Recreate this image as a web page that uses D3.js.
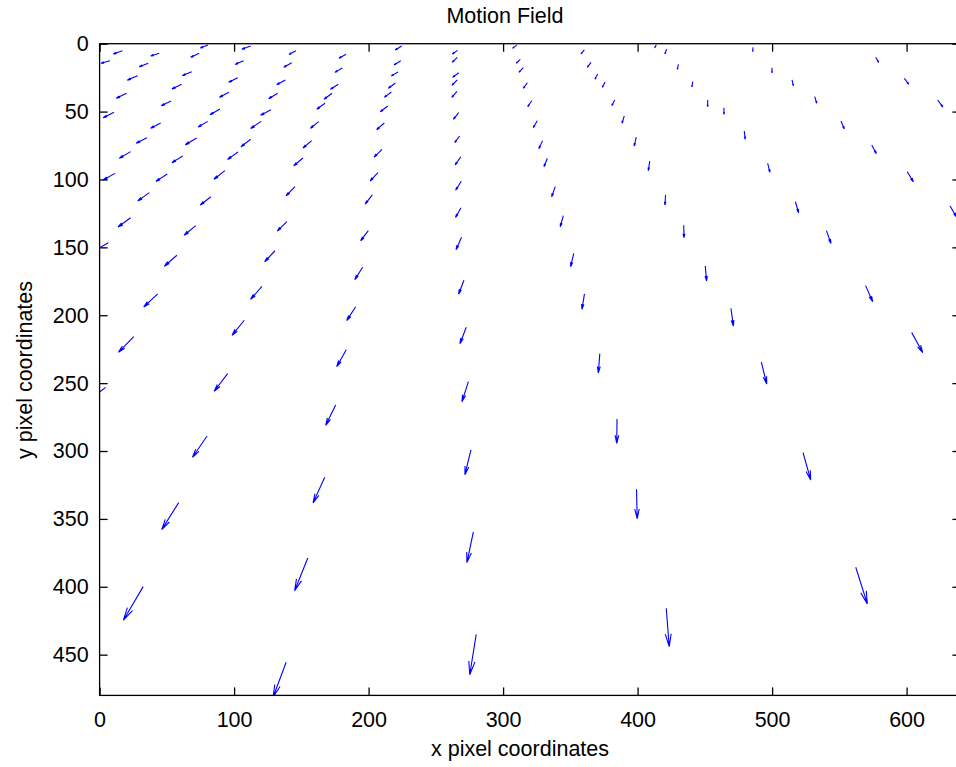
<!DOCTYPE html>
<html>
<head>
<meta charset="utf-8">
<script src="https://cdn.jsdelivr.net/npm/d3@7"></script>
<style>
  html, body { margin: 0; padding: 0; background: #fff; }
  svg { display: block; }
  text { font-family: "Liberation Sans", Arial, Helvetica, sans-serif; fill: #000; }
</style>
</head>
<body>
<svg id="chart" width="956" height="767"></svg>
<script>
// ---- data (tail position x,y and displacement u,v in pixel-coordinate units) ----
const qx = [
  16.9, 7.7, 44.4, 36.2, 80.6, 74.1, 112.3, 107.1, 146.0, 142.8,
  68.5, 28.3, 102.7, 138.1, 61.0, 20.1, 96.2, 132.4, 53.1, 10.7,
  89.5, 127.4, 45.4, 80.4, 120.2, 35.2, 72.2, 112.3, 23.1, 61.8,
  102.9, 11.4, 50.3, 93.2, 37.0, 82.8, 145.3, 202.8, 23.1, 71.5,
  139.3, 199.8, 6.5, 57.5, 130.4, 195.6, 43.2, 120.7, 190.4, 25.4,
  107.6, 183.4, 95.2, 4.5, 175.5, 79.9, 276.1, 167.4, 58.8, 277.9,
  399.2, 154.8, 32.4, 280.0, 138.7, 523.0, 562.2, 421.3, 338.8, 420.8,
  517.3, 632.3, 268.7, 344.8, 434.3, 540.4, 269.1, 352.5, 450.3, 569.5,
  270.9, 360.5, 469.4, 603.8, 272.6, 371.9, 492.0, 274.2, 384.7, 485.8,
  577.0, 499.9, 441.0, 514.8, 598.3, 452.1, 464.2, 531.7, 623.1, 479.3,
  551.2, 574.1, 496.7, 600.5, 310.1, 360.4, 413.9, 421.6, 430.3, 312.8,
  315.0, 365.4, 370.3, 375.8, 318.0, 321.3, 383.0, 325.4, 390.1, 329.4,
  399.0, 332.9, 409.0, 183.2, 180.4, 177.5, 172.8, 167.6, 162.9, 157.7,
  151.2, 224.6, 223.9, 221.9, 219.9, 216.9, 214.2, 211.7, 210.0, 207.0,
  266.2, 265.9, 267.0, 265.9, 265.7, 267.0, 267.7, 268.5, 268.9
];
const qy = [
  5.2, 12.5, 7.1, 14.4, 1.0, 7.1, 1.7, 12.5, 5.2, 14.0,
  20.6, 23.6, 25.0, 26.7, 29.9, 36.5, 35.8, 36.5, 42.2, 50.5,
  48.1, 48.6, 58.4, 57.2, 57.2, 69.2, 69.5, 70.4, 79.5, 82.7,
  79.8, 95.5, 96.0, 93.5, 109.7, 112.7, 105.3, 111.4, 128.2, 134.0,
  131.1, 137.7, 146.6, 155.8, 152.5, 164.7, 184.3, 178.7, 193.7, 215.8,
  203.7, 225.4, 243.0, 253.1, 266.1, 288.9, 299.2, 319.3, 338.0, 359.6,
  328.2, 378.8, 399.9, 435.0, 455.6, 301.2, 385.6, 415.8, 105.3, 111.4,
  116.4, 119.5, 120.8, 126.7, 133.7, 137.7, 142.6, 154.5, 163.7, 178.2,
  174.2, 184.2, 194.9, 212.8, 208.8, 228.3, 234.6, 248.9, 276.4, 2.7,
  10.0, 17.7, 28.0, 26.7, 25.5, 41.5, 47.1, 39.0, 41.5, 64.3,
  56.9, 74.6, 88.1, 94.3, 1.0, 4.6, 0.7, 4.1, 15.2, 11.5,
  17.7, 13.7, 22.3, 28.2, 28.9, 42.0, 41.5, 56.7, 53.2, 71.4,
  68.9, 84.4, 86.4, 7.8, 17.9, 29.9, 36.5, 43.9, 57.4, 71.4,
  84.2, 1.7, 12.5, 20.8, 28.9, 35.6, 45.9, 58.4, 77.8, 95.0,
  4.9, 10.0, 21.4, 26.7, 35.1, 50.8, 68.0, 83.4, 101.3
];
const qu = [
  -6.7, -6.7, -6.4, -6.7, -5.7, -6.4, -6.5, -6.2, -5.2, -5.9,
  -7.0, -7.7, -6.7, -6.4, -7.2, -7.7, -7.2, -6.7, -7.2, -8.0,
  -7.4, -7.7, -7.4, -7.2, -7.9, -8.0, -8.5, -7.2, -8.5, -8.0,
  -7.7, -8.7, -8.4, -8.2, -8.6, -8.0, -6.7, -5.4, -9.4, -8.7,
  -7.2, -5.7, -10.6, -9.4, -7.7, -5.9, -10.4, -8.4, -6.7, -11.4,
  -9.1, -7.1, -10.0, -13.4, -7.4, -10.8, -4.5, -8.7, -12.6, -4.8,
  0.5, -9.8, -14.7, -4.8, -9.7, 5.7, 8.6, 2.2, -2.7, -0.5,
  2.4, 4.8, -4.1, -2.3, 0.2, 3.4, -4.1, -2.3, 1.0, 5.3,
  -4.0, -1.9, 1.8, 8.2, -4.7, -1.1, 4.0, -4.8, -0.2, -0.2,
  2.2, 0.0, -0.7, 1.0, 3.3, 0.0, 0.0, 1.5, 3.9, 0.7,
  2.5, 3.4, 1.7, 4.5, -3.0, -2.5, -1.2, -1.3, -0.7, -3.0,
  -3.2, -2.8, -2.0, -2.0, -3.0, -3.0, -2.2, -3.0, -1.7, -2.8,
  -1.5, -2.5, -1.0, -5.2, -5.4, -5.9, -5.9, -6.2, -6.2, -6.5,
  -6.9, -4.8, -5.0, -5.0, -5.2, -5.2, -5.5, -5.7, -5.9, -5.9,
  -4.0, -3.7, -4.5, -3.9, -3.9, -4.0, -3.7, -4.2, -4.2
];
const qv = [
  2.4, 1.9, 2.0, 2.5, 2.2, 2.9, 2.4, 2.7, 2.8, 3.4,
  2.9, 3.2, 3.4, 3.5, 3.5, 3.7, 3.7, 4.0, 3.5, 4.0,
  4.2, 4.1, 3.9, 4.2, 5.2, 4.1, 4.9, 5.5, 4.9, 4.9,
  5.4, 4.9, 5.4, 6.3, 6.1, 6.1, 6.8, 6.8, 6.8, 7.1,
  6.8, 7.4, 6.1, 8.1, 8.1, 9.1, 9.6, 9.6, 10.3, 11.5,
  11.0, 12.5, 13.0, 10.3, 15.0, 15.7, 18.2, 18.9, 19.9, 22.6,
  21.7, 24.1, 24.7, 29.8, 25.6, 20.1, 27.0, 28.3, 7.4, 7.4,
  8.1, 8.1, 7.2, 8.1, 9.2, 9.4, 9.1, 9.7, 11.0, 11.8,
  10.3, 11.4, 13.0, 14.7, 12.2, 14.2, 16.0, 14.8, 17.9, 3.2,
  3.7, 3.7, 3.9, 4.2, 4.4, 4.9, 4.9, 4.9, 5.2, 6.1,
  5.9, 6.4, 6.6, 7.4, 2.4, 2.9, 2.4, 3.5, 3.7, 2.9,
  3.4, 3.7, 3.9, 3.9, 3.9, 4.4, 4.2, 5.2, 5.4, 5.9,
  6.4, 6.2, 7.1, 2.9, 3.2, 3.7, 4.4, 4.4, 4.9, 5.4,
  5.7, 2.9, 3.2, 2.9, 3.9, 3.9, 4.2, 4.9, 5.7, 6.1,
  2.7, 3.7, 3.4, 3.9, 4.4, 4.9, 4.9, 5.9, 6.6
];
const xTicks = [0, 100, 200, 300, 400, 500, 600];
const yTicks = [0, 50, 100, 150, 200, 250, 300, 350, 400, 450];
const titleText = "Motion Field";
const xLabelText = "x pixel coordinates";
const yLabelText = "y pixel coordinates";

// ---- layout ----
const svg = d3.select("#chart");
const L = 99.6, T = 43.7, R = 960.4, B = 695.4;
const x = d3.scaleLinear().domain([0, 640]).range([L, R]);
const y = d3.scaleLinear().domain([0, 480]).range([T, B]);
const FS = 21.5;

svg.append("defs").append("clipPath").attr("id", "plotclip")
  .append("rect").attr("x", L).attr("y", T).attr("width", R - L).attr("height", B - T);

// arrows (MATLAB quiver style heads)
const alpha = 0.33, beta = 0.23;
const arrows = qx.map((d, i) => {
  const x0 = x(qx[i]), y0 = y(qy[i]);
  const x1 = x(qx[i] + qu[i]), y1 = y(qy[i] + qv[i]);
  const dx = x1 - x0, dy = y1 - y0;
  const b1 = [x1 - alpha * (dx + beta * dy), y1 - alpha * (dy - beta * dx)];
  const b2 = [x1 - alpha * (dx - beta * dy), y1 - alpha * (dy + beta * dx)];
  return `M${x0},${y0}L${x1},${y1}M${b1[0]},${b1[1]}L${x1},${y1}L${b2[0]},${b2[1]}`;
});
svg.append("g").attr("clip-path", "url(#plotclip)")
  .selectAll("path").data(arrows).join("path")
  .attr("d", d => d)
  .attr("fill", "none")
  .attr("stroke", "#0000ff")
  .attr("stroke-width", 1.1);

// axes box
svg.append("rect").attr("x", L).attr("y", T).attr("width", R - L).attr("height", B - T)
  .attr("fill", "none").attr("stroke", "#000").attr("stroke-width", 1.3);

const TK = 8;
const gx = svg.append("g").attr("transform", `translate(0,${B})`)
  .call(d3.axisBottom(x).tickValues(xTicks).tickSizeInner(-TK).tickSizeOuter(0).tickPadding(16));
const gxt = svg.append("g").attr("transform", `translate(0,${T})`)
  .call(d3.axisTop(x).tickValues(xTicks).tickSizeInner(-TK).tickSizeOuter(0).tickFormat(""));
const gy = svg.append("g").attr("transform", `translate(${L},0)`)
  .call(d3.axisLeft(y).tickValues(yTicks).tickSizeInner(-TK).tickSizeOuter(0).tickPadding(11));
const gyr = svg.append("g").attr("transform", `translate(${R},0)`)
  .call(d3.axisRight(y).tickValues(yTicks).tickSizeInner(-TK).tickSizeOuter(0).tickFormat(""));
[gx, gxt, gy, gyr].forEach(g => {
  g.select(".domain").remove();
  g.selectAll("line").attr("stroke", "#000").attr("stroke-width", 1.3);
  g.selectAll("text").attr("font-size", FS).attr("font-family", '"Liberation Sans", Arial, sans-serif').attr("fill", "#000");
});

// title and labels
svg.append("text").attr("x", 505).attr("y", 23).attr("text-anchor", "middle")
  .attr("font-size", FS).text(titleText);
svg.append("text").attr("x", 520).attr("y", 756).attr("text-anchor", "middle")
  .attr("font-size", FS).text(xLabelText);
svg.append("text").attr("transform", "translate(32,370) rotate(-90)").attr("text-anchor", "middle")
  .attr("font-size", FS).text(yLabelText);
</script>
</body>
</html>
